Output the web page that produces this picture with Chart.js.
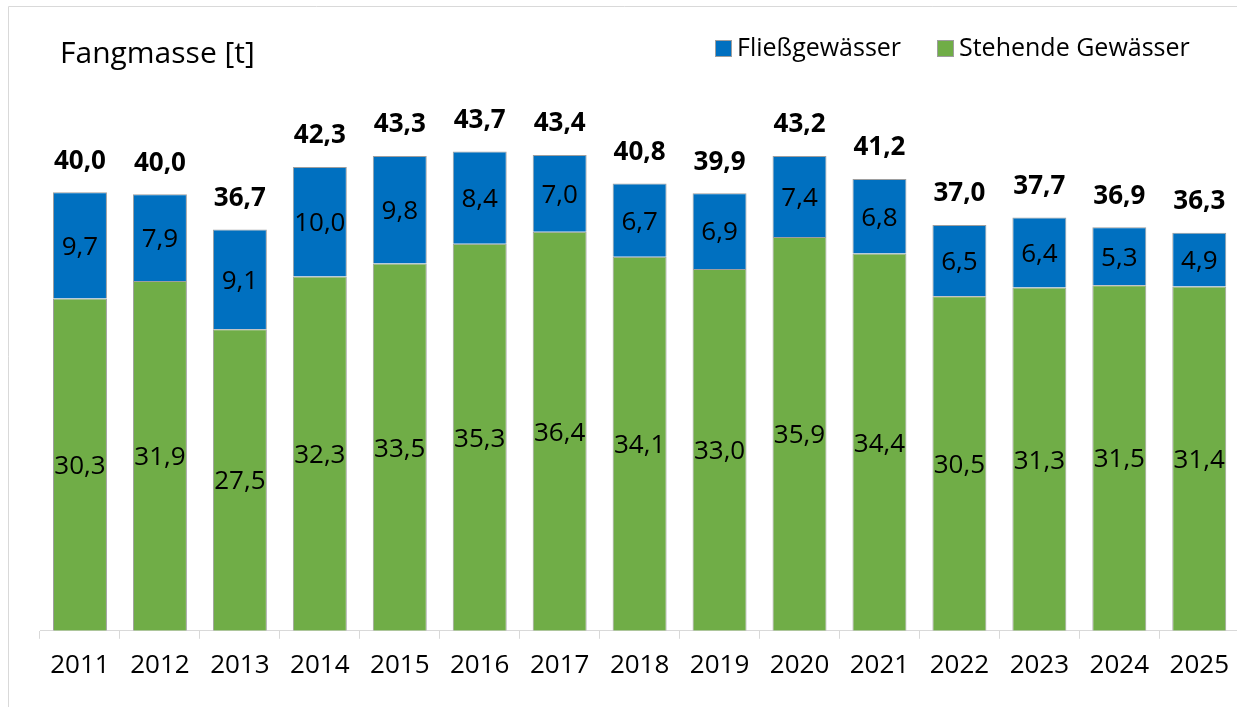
<!DOCTYPE html>
<html>
<head>
<meta charset="utf-8">
<script src="https://cdn.jsdelivr.net/npm/chart.js@4/dist/chart.umd.min.js"></script>
<style>
html,body{margin:0;padding:0;background:#fff;overflow:hidden;width:1237px;height:707px;}
#wrap{position:absolute;left:0;top:0;width:1240px;height:707px;}
</style>
</head>
<body>
<div id="wrap"><canvas id="c" width="1240" height="707"></canvas></div>
<script>
const years = ['2011','2012','2013','2014','2015','2016','2017','2018','2019','2020','2021','2022','2023','2024','2025'];
const stehende = [30.3,31.9,27.5,32.3,33.5,35.3,36.4,34.1,33.0,35.9,34.4,30.5,31.3,31.5,31.4];
const fliess = [9.7,7.9,9.1,10.0,9.8,8.4,7.0,6.7,6.9,7.4,6.8,6.5,6.4,5.3,4.9];
const totals = [40.0,40.0,36.7,42.3,43.3,43.7,43.4,40.8,39.9,43.2,41.2,37.0,37.7,36.9,36.3];
const titleText = 'Fangmasse [t]';

const FONT = '"Open Sans", sans-serif';
const fmt = v => v.toFixed(1).replace('.', ',');

const overlay = {
  id: 'overlay',
  afterDatasetsDraw(chart) {
    const ctx = chart.ctx;
    ctx.save();
    ctx.fillStyle = '#000';
    ctx.textAlign = 'center';
    ctx.textBaseline = 'middle';
    ctx.font = '26px ' + FONT;
    chart.data.datasets.forEach((ds, di) => {
      const meta = chart.getDatasetMeta(di);
      meta.data.forEach((bar, i) => {
        const top = Math.min(bar.y, bar.base), bot = Math.max(bar.y, bar.base);
        ctx.fillText(fmt(ds.data[i]), bar.x, (top + bot) / 2 + 2);
      });
    });
    const topMeta = chart.getDatasetMeta(1);
    ctx.font = 'bold 26px ' + FONT;
    topMeta.data.forEach((bar, i) => {
      ctx.fillText(fmt(totals[i]), bar.x, bar.y - 31);
    });
    ctx.restore();
  },
  afterDraw(chart) {
    const ctx = chart.ctx;
    ctx.save();
    ctx.strokeStyle = '#d9d9d9';
    ctx.lineWidth = 1;
    ctx.beginPath();
    ctx.moveTo(8.5, 707); ctx.lineTo(8.5, 6.5); ctx.lineTo(1240, 6.5);
    ctx.stroke();
    ctx.fillStyle = '#000';
    ctx.textAlign = 'left';
    ctx.textBaseline = 'alphabetic';
    ctx.font = '30px ' + FONT;
    ctx.fillText(titleText, 60, 63);
    ctx.font = '25px ' + FONT;
    ctx.textBaseline = 'middle';
    const items = [
      {ds: chart.data.datasets[1], x: 715},
      {ds: chart.data.datasets[0], x: 937}
    ];
    items.forEach(it => {
      ctx.fillStyle = it.ds.backgroundColor;
      ctx.fillRect(it.x, 40, 17, 17);
      ctx.strokeStyle = '#9e9e9e';
      ctx.strokeRect(it.x + 0.5, 40.5, 16, 16);
      ctx.fillStyle = '#000';
      ctx.fillText(it.ds.label, it.x + 22, 49);
    });
    ctx.restore();
  }
};

new Chart(document.getElementById('c'), {
  type: 'bar',
  data: {
    labels: years,
    datasets: [
      {label: 'Stehende Gewässer', data: stehende, backgroundColor: '#70AD47', borderColor: '#9e9e9e', borderWidth: 1, barPercentage: 0.675, categoryPercentage: 1},
      {label: 'Fließgewässer', data: fliess, backgroundColor: '#0070C0', borderColor: '#9e9e9e', borderWidth: 1, barPercentage: 0.675, categoryPercentage: 1}
    ]
  },
  options: {
    responsive: false,
    animation: false,
    events: [],
    layout: {padding: {left: 40, right: 0, top: 82.5, bottom: 15}},
    plugins: {legend: {display: false}, title: {display: false}, tooltip: {enabled: false}},
    scales: {
      x: {
        stacked: true,
        grid: {display: true, drawOnChartArea: false, drawTicks: true, tickLength: 8, color: '#d9d9d9', offset: true},
        border: {display: true, color: '#d9d9d9', width: 1},
        ticks: {color: '#000', font: {family: FONT, size: 26}, padding: 11, maxRotation: 0, autoSkip: false}
      },
      y: {
        stacked: true,
        display: false,
        min: 0,
        max: 50
      }
    }
  },
  plugins: [overlay]
});
</script>
</body>
</html>
